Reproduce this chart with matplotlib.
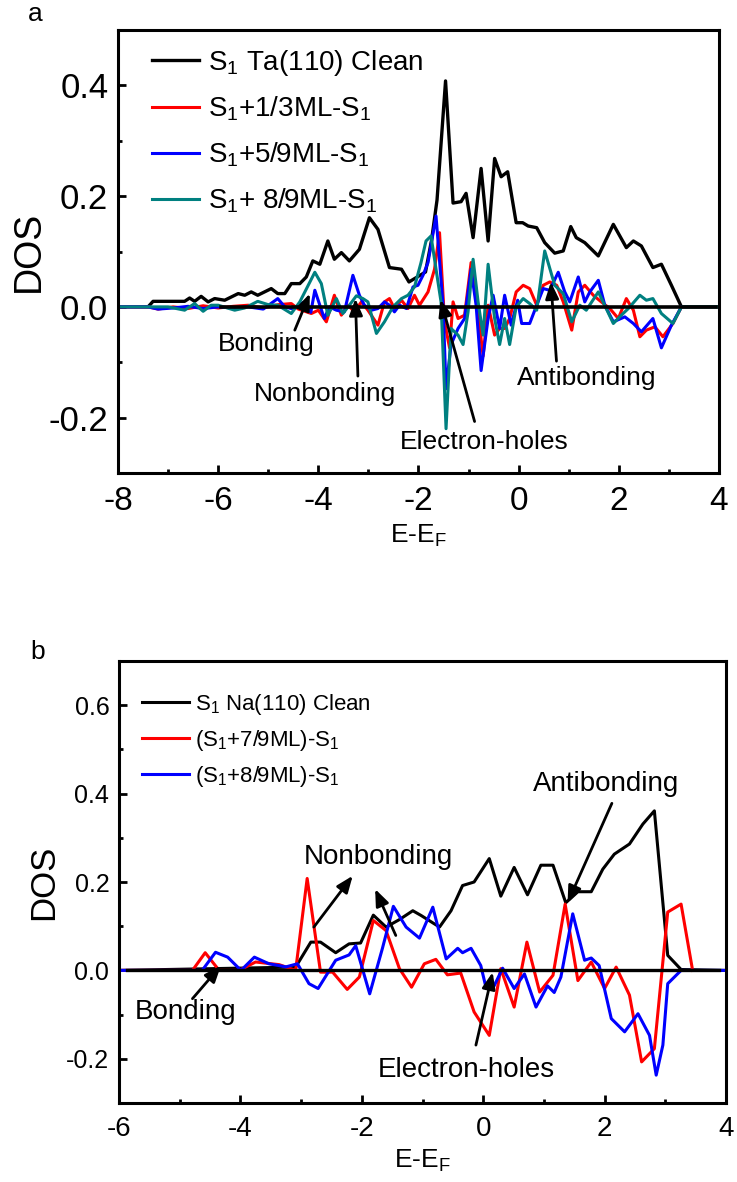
import matplotlib
matplotlib.use('Agg')
import matplotlib.pyplot as plt
from matplotlib.ticker import MultipleLocator, FormatStrFormatter

plt.rcParams['font.family'] = ['Liberation Sans', 'DejaVu Sans']
plt.rcParams['mathtext.fontset'] = 'custom'
plt.rcParams['mathtext.rm'] = 'Liberation Sans'

# ---- panel a : Ta(110) ----
ta_clean_x = [-8.0, -7.4, -7.3, -6.67, -6.57, -6.47, -6.34, -6.20, -6.07, -5.87, -5.60, -5.47,
              -5.34, -5.21, -4.94, -4.81, -4.67, -4.54, -4.37, -4.24, -4.11, -3.97, -3.81, -3.68,
              -3.54, -3.38, -3.18, -2.98, -2.81, -2.58, -2.34, -2.19, -1.86, -1.74, -1.63, -1.46,
              -1.31, -1.15, -1.05, -0.91, -0.75, -0.61, -0.48, -0.35, -0.22, -0.05, 0.08, 0.19,
              0.36, 0.52, 0.72, 0.89, 1.04, 1.15, 1.32, 1.59, 1.89, 2.15, 2.29, 2.45, 2.68, 2.85,
              3.05, 3.25, 4.0]
ta_clean_y = [0.0, 0.0, 0.01, 0.01, 0.016, 0.01, 0.019, 0.009, 0.015, 0.012, 0.024, 0.021,
              0.027, 0.021, 0.033, 0.024, 0.024, 0.042, 0.042, 0.054, 0.083, 0.077, 0.119, 0.086,
              0.098, 0.083, 0.104, 0.161, 0.14, 0.071, 0.068, 0.045, 0.063, 0.12, 0.193, 0.408,
              0.1875, 0.19, 0.205, 0.125, 0.25, 0.119, 0.268, 0.235, 0.244, 0.152, 0.152, 0.146,
              0.143, 0.116, 0.097, 0.101, 0.145, 0.125, 0.116, 0.092, 0.149, 0.107, 0.119, 0.11,
              0.071, 0.077, 0.039, 0.0, 0.0]

ta_13_x = [-8.0, -7.4, -7.2, -6.9, -6.6, -6.3, -6.0, -5.7, -5.4, -5.1, -4.8, -4.54, -4.4, -4.14,
           -4.0, -3.84, -3.68, -3.54, -3.41, -3.28, -3.14, -3.01, -2.81, -2.68, -2.58, -2.48,
           -2.34, -2.21, -2.08, -1.98, -1.81, -1.68, -1.58, -1.48, -1.38, -1.31, -1.21, -1.08,
           -0.95, -0.85, -0.71, -0.61, -0.48, -0.38, -0.28, -0.18, -0.05, 0.09, 0.22, 0.36, 0.49,
           0.62, 0.76, 0.89, 1.06, 1.19, 1.32, 1.49, 1.65, 1.82, 1.99, 2.15, 2.29, 2.42, 2.55,
           2.72, 2.88, 3.08, 3.25]
ta_13_y = [0.0, 0.0, -0.004, 0.0, -0.003, 0.002, -0.002, 0.001, 0.003, -0.002, 0.004, 0.006,
           -0.004, -0.012, -0.006, -0.027, 0.021, -0.015, 0.003, -0.009, 0.009, -0.006, -0.033,
           0.009, 0.015, -0.003, 0.012, -0.003, 0.021, 0.003, 0.027, 0.068, 0.134, -0.027,
           -0.074, 0.009, -0.021, -0.015, 0.08, 0.021, -0.089, 0.003, -0.051, -0.039, -0.039,
           -0.021, 0.027, 0.039, 0.033, 0.003, 0.039, 0.045, 0.039, 0.009, -0.042, 0.027, 0.039,
           0.021, 0.009, -0.003, -0.021, 0.015, -0.006, -0.054, -0.042, -0.036, -0.054, -0.03,
           0.0]

ta_59_x = [-8.0, -7.4, -7.2, -6.9, -6.6, -6.3, -6.0, -5.7, -5.4, -5.1, -4.81, -4.67, -4.5,
           -4.3, -4.15, -4.07, -3.97, -3.88, -3.78, -3.64, -3.48, -3.31, -3.18, -3.08, -2.94,
           -2.81, -2.68, -2.58, -2.48, -2.38, -2.24, -2.11, -2.01, -1.91, -1.81, -1.65, -1.51,
           -1.45, -1.35, -1.21, -1.08, -0.95, -0.85, -0.75, -0.61, -0.51, -0.38, -0.28, -0.15,
           -0.02, 0.06, 0.22, 0.36, 0.49, 0.62, 0.79, 0.92, 1.02, 1.19, 1.32, 1.42, 1.59, 1.72,
           1.89, 2.12, 2.29, 2.45, 2.68, 2.85, 3.05, 3.25]
ta_59_y = [0.0, 0.0, -0.004, -0.002, 0.001, -0.003, 0.0, -0.002, 0.0, -0.004, 0.015, 0.0,
           -0.004, 0.008, -0.01, 0.03, 0.003, -0.021, 0.0, -0.006, -0.009, 0.057, 0.021, 0.003,
           -0.006, -0.003, 0.009, 0.003, -0.009, 0.003, -0.003, 0.036, 0.039, 0.057, 0.08,
           0.164, 0.003, -0.148, -0.068, -0.039, -0.021, 0.068, 0.003, -0.115, -0.021, 0.021,
           -0.039, 0.021, -0.033, 0.012, -0.03, -0.03, 0.003, 0.033, 0.03, 0.0625, 0.027, 0.009,
           0.054, 0.009, 0.027, 0.048, 0.003, -0.027, -0.018, -0.03, -0.045, -0.021, -0.074,
           -0.033, 0.0]

ta_89_x = [-8.0, -7.4, -7.0, -6.67, -6.47, -6.30, -6.14, -6.0, -5.67, -5.47, -5.21, -5.0,
           -4.81, -4.54, -4.37, -4.07, -3.94, -3.81, -3.64, -3.51, -3.38, -3.24, -3.11, -3.01,
           -2.84, -2.68, -2.51, -2.34, -2.21, -2.08, -1.95, -1.85, -1.75, -1.65, -1.55, -1.45,
           -1.35, -1.21, -1.11, -1.01, -0.91, -0.81, -0.71, -0.61, -0.48, -0.38, -0.28, -0.18,
           -0.05, 0.09, 0.22, 0.36, 0.52, 0.72, 0.89, 1.06, 1.22, 1.35, 1.59, 1.89, 2.05, 2.19,
           2.42, 2.55, 2.68, 2.85, 3.08, 3.25, 4.0]
ta_89_y = [0.0, 0.0, 0.0, -0.006, 0.006, -0.008, 0.003, 0.003, -0.006, -0.002, 0.01, 0.004,
           0.003, -0.012, 0.009, 0.0625, 0.042, -0.015, 0.015, -0.012, 0.003, 0.02, 0.015,
           0.009, -0.048, -0.027, 0.0, 0.015, 0.021, 0.036, 0.08, 0.119, 0.128, 0.068, 0.009,
           -0.22, -0.039, -0.051, -0.068, -0.009, 0.086, 0.009, -0.051, 0.077, -0.021, -0.068,
           -0.021, -0.068, 0.0, 0.015, 0.006, -0.006, 0.101, 0.039, 0.024, -0.027, 0.003,
           -0.006, 0.027, -0.03, -0.015, -0.003, 0.021, 0.012, 0.015, -0.012, -0.03, 0.0, 0.0]

ta_labels = [r'$\mathregular{S_1}$ Ta(110) Clean', r'$\mathregular{S_1}$+1/3ML-$\mathregular{S_1}$',
             r'$\mathregular{S_1}$+5/9ML-$\mathregular{S_1}$', r'$\mathregular{S_1}$+ 8/9ML-$\mathregular{S_1}$']

# ---- panel b : Na(110) ----
na_clean_x = [-6.0, -3.09, -2.84, -2.68, -2.43, -2.21, -2.02, -1.81, -1.60, -1.38, -1.16,
              -1.02, -0.72, -0.53, -0.34, -0.15, 0.10, 0.29, 0.51, 0.73, 0.95, 1.15, 1.36, 1.56,
              1.78, 1.97, 2.16, 2.41, 2.63, 2.82, 3.04, 3.26, 4.0]
na_clean_y = [0.0, 0.0075, 0.064, 0.064, 0.04, 0.06, 0.062, 0.125, 0.098, 0.115, 0.135,
              0.124, 0.098, 0.135, 0.192, 0.2, 0.253, 0.168, 0.233, 0.171, 0.238, 0.238, 0.153,
              0.178, 0.178, 0.229, 0.263, 0.286, 0.331, 0.361, 0.034, 0.002, 0.0]

na_79_x = [-6.0, -4.79, -4.58, -4.35, -4.02, -3.75, -3.36, -3.09, -2.90, -2.68, -2.48, -2.24,
           -2.04, -1.81, -1.60, -1.38, -1.18, -0.97, -0.78, -0.59, -0.37, -0.15, 0.10, 0.29,
           0.51, 0.72, 0.93, 1.15, 1.35, 1.56, 1.78, 2.0, 2.19, 2.41, 2.61, 2.82, 3.04, 3.26,
           3.45]
na_79_y = [0.0, 0.0, 0.04, 0.0, 0.0, 0.019, 0.013, 0.0, 0.208, -0.004, -0.004, -0.043,
           -0.015, 0.113, 0.09, 0.004, -0.038, 0.015, 0.025, -0.01, -0.006, -0.094, -0.147,
           0.004, -0.083, 0.064, -0.049, -0.011, 0.15, -0.023, 0.019, -0.041, 0.0075, -0.056,
           -0.207, -0.177, 0.132, 0.15, 0.0]

na_89_x = [-6.0, -4.63, -4.41, -4.21, -3.99, -3.77, -3.53, -3.25, -3.06, -2.87, -2.72, -2.43,
           -2.21, -2.10, -1.87, -1.66, -1.48, -1.27, -1.05, -0.83, -0.61, -0.42, -0.34, -0.20,
           -0.04, 0.05, 0.18, 0.32, 0.51, 0.68, 0.87, 1.06, 1.17, 1.28, 1.475, 1.67, 1.78, 1.91,
           2.11, 2.33, 2.55, 2.74, 2.85, 2.96, 3.04, 3.26, 4.0]
na_89_y = [0.0, 0.0, 0.041, 0.03, 0.0, 0.03, 0.015, 0.008, 0.015, -0.03, -0.041, 0.023,
           0.035, 0.056, -0.053, 0.05, 0.145, 0.098, 0.073, 0.143, 0.026, 0.05, 0.04, 0.05,
           0.011, -0.041, -0.035, 0.005, -0.041, -0.008, -0.083, -0.035, -0.05, -0.015, 0.128,
           0.023, 0.028, 0.011, -0.109, -0.139, -0.098, -0.147, -0.237, -0.169, -0.03, 0.0, 0.0]

na_labels = [r'$\mathregular{S_1}$ Na(110) Clean', r'($\mathregular{S_1}$+7/9ML)-$\mathregular{S_1}$',
             r'($\mathregular{S_1}$+8/9ML)-$\mathregular{S_1}$']

# annotation positions: (label, text xy, [(arrow tail, arrow head), ...])
ta_notes = [('Bonding', (-5.03, -0.067), [((-4.47, -0.042), (-4.17, 0.024))]),
            ('Nonbonding', (-3.87, -0.158), [((-3.21, -0.125), (-3.26, 0.015))]),
            ('Electron-holes', (-0.69, -0.244), [((-0.88, -0.207), (-1.56, 0.013))]),
            ('Antibonding', (1.35, -0.128), [((0.755, -0.098), (0.643, 0.045))])]
na_notes = [('Bonding', (-4.90, -0.094), [((-4.79, -0.064), (-4.32, 0.011))]),
            ('Nonbonding', (-1.72, 0.256), [((-2.79, 0.098), (-2.15, 0.214)),
                                            ((-1.44, 0.079), (-1.78, 0.184))]),
            ('Antibonding', (2.02, 0.421), [((2.12, 0.378), (1.39, 0.153))]),
            ('Electron-holes', (-0.28, -0.226), [((-0.12, -0.169), (0.156, -0.004))])]

teal = '#008080'
W, H = 737, 1182
fig = plt.figure(figsize=(W / 100, H / 100), dpi=100)

ax1 = fig.add_axes([118 / W, 1 - 473 / H, (719 - 118) / W, (473 - 30) / H])
ax2 = fig.add_axes([119 / W, 1 - 1103 / H, (726 - 119) / W, (1103 - 661) / H])


def style_axes(ax, xlim, ylim, tick_fs, ytick_fs):
    ax.set_xlim(*xlim)
    ax.set_ylim(*ylim)
    ax.xaxis.set_major_locator(MultipleLocator(2))
    ax.xaxis.set_minor_locator(MultipleLocator(1))
    ax.yaxis.set_major_locator(MultipleLocator(0.2))
    ax.yaxis.set_minor_locator(MultipleLocator(0.1))
    ax.yaxis.set_major_formatter(FormatStrFormatter('%.1f'))
    ax.xaxis.set_major_formatter(FormatStrFormatter('%d'))
    ax.tick_params(which='both', direction='in', top=False, right=False, width=2)
    ax.tick_params(which='major', length=6)
    ax.tick_params(which='minor', length=3)
    ax.tick_params(axis='x', labelsize=tick_fs, pad=9)
    ax.tick_params(axis='y', labelsize=ytick_fs, pad=7)
    for s in ax.spines.values():
        s.set_linewidth(2.2)


def draw_notes(ax, notes, fs):
    for label, txy, arrows in notes:
        ax.text(txy[0], txy[1], label, fontsize=fs, ha='center', va='center')
        for tail, head in arrows:
            ax.annotate('', xy=head, xytext=tail,
                        arrowprops=dict(arrowstyle='-|>,head_length=0.5,head_width=0.2',
                                        color='black', lw=2, mutation_scale=20,
                                        shrinkA=0, shrinkB=0))


xlabel = r'E-E$_\mathregular{F}$'

# panel a
ax1.plot(ta_clean_x, ta_clean_y, color='black', lw=2.4, label=ta_labels[0])
ax1.plot(ta_13_x, ta_13_y, color='red', lw=2.2, label=ta_labels[1])
ax1.plot(ta_59_x, ta_59_y, color='blue', lw=2.2, label=ta_labels[2])
ax1.plot(ta_89_x, ta_89_y, color=teal, lw=2.2, label=ta_labels[3])
ax1.plot([-5.95, 3.95], [0, 0], color='black', lw=2.6)
style_axes(ax1, (-8, 4), (-0.3, 0.5), 24, 25)
ax1.set_xlabel(xlabel, fontsize=19, labelpad=4)
ax1.set_ylabel('DOS', fontsize=27, labelpad=1)
draw_notes(ax1, ta_notes, 19)
ax1.legend(loc='upper left', bbox_to_anchor=(0.057, 0.96), frameon=False, fontsize=20,
           handlelength=1.7, handletextpad=0.3, labelspacing=0.62, borderpad=0,
           borderaxespad=0)
fig.text(28 / W, 1 - 14 / H, 'a', fontsize=19, ha='left', va='center')

# panel b
ax2.plot(na_clean_x, na_clean_y, color='black', lw=2.2, label=na_labels[0])
ax2.plot(na_79_x, na_79_y, color='red', lw=2.2, label=na_labels[1])
ax2.plot(na_89_x, na_89_y, color='blue', lw=2.2, label=na_labels[2])
ax2.plot([-5.86, 3.89], [0, 0], color='black', lw=2.4)
style_axes(ax2, (-6, 4), (-0.3, 0.7), 20, 18)
ax2.set_xlabel(xlabel, fontsize=19, labelpad=4)
ax2.set_ylabel('DOS', fontsize=25, labelpad=4)
draw_notes(ax2, na_notes, 20)
ax2.legend(loc='upper left', bbox_to_anchor=(0.038, 0.93), frameon=False, fontsize=16,
           handlelength=2.1, handletextpad=0.3, labelspacing=0.5, borderpad=0,
           borderaxespad=0)
fig.text(30 / W, 1 - 652 / H, 'b', fontsize=19, ha='left', va='center')

fig.savefig('out.png', dpi=100)
